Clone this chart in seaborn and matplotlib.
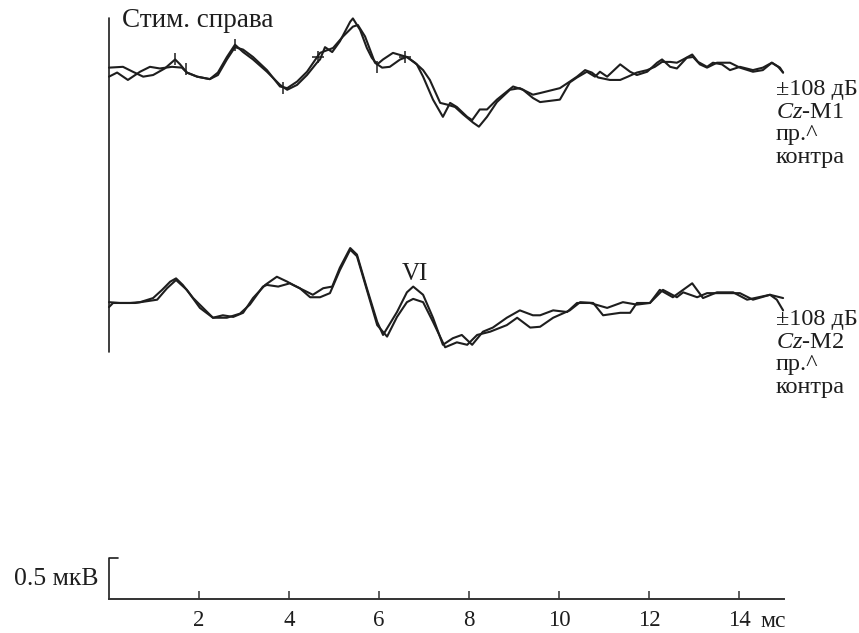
import numpy as np
import pandas as pd
import matplotlib
matplotlib.use("Agg")
import matplotlib.pyplot as plt
import seaborn as sns

# --- data: time (ms) and amplitude (uV) ---
# upper pair, Cz-M1
u1_t = [0.0, 0.31, 0.53, 0.76, 0.98, 1.24, 1.47, 1.58, 1.73, 1.96, 2.24, 2.42, 2.62, 2.8, 2.98,
        3.2, 3.51, 3.8, 3.96, 4.18, 4.4, 4.62, 4.69, 4.8, 4.96, 5.13, 5.36, 5.42, 5.58, 5.73,
        5.84, 5.96, 6.09, 6.31, 6.62, 6.84, 6.98, 7.2, 7.42, 7.58, 7.73, 7.96, 8.07, 8.24, 8.4,
        8.62, 8.98, 9.2, 9.42, 9.58, 10.02, 10.24, 10.4, 10.62, 10.8, 10.91, 11.07, 11.36, 11.58,
        11.73, 11.96, 12.18, 12.29, 12.47, 12.62, 12.84, 12.98, 13.13, 13.29, 13.51, 13.8, 14.02,
        14.31, 14.53, 14.73, 14.87, 14.98]
u1_a = [0.05, 0.06, 0.0, -0.06, -0.04, 0.04, 0.15, 0.09, -0.01, -0.06, -0.09, -0.01, 0.18, 0.33, 0.24,
        0.15, 0.0, -0.16, -0.22, -0.16, -0.04, 0.11, 0.15, 0.30, 0.24, 0.37, 0.61, 0.65, 0.51, 0.29,
        0.17, 0.09, 0.15, 0.23, 0.18, 0.09, -0.06, -0.34, -0.55, -0.38, -0.43, -0.55, -0.59, -0.46, -0.46,
        -0.34, -0.18, -0.22, -0.32, -0.37, -0.34, -0.13, -0.07, 0.0, -0.06, 0.0, -0.06, 0.09, 0.0,
        -0.04, 0.0, 0.11, 0.15, 0.06, 0.04, 0.17, 0.18, 0.09, 0.05, 0.11, 0.11, 0.05,
        0.0, 0.02, 0.11, 0.06, -0.01]

u2_t = [0.0, 0.18, 0.42, 0.69, 0.91, 1.13, 1.4, 1.62, 1.73, 1.96, 2.24, 2.42, 2.62, 2.8, 2.98,
        3.2, 3.51, 3.8, 3.96, 4.18, 4.4, 4.69, 4.98, 5.2, 5.42, 5.53, 5.69, 5.91, 6.07, 6.24,
        6.47, 6.62, 6.8, 6.98, 7.13, 7.36, 7.51, 7.69, 7.87, 8.09, 8.22, 8.4, 8.62, 8.91, 9.13,
        9.42, 9.58, 10.02, 10.24, 10.4, 10.58, 10.73, 10.87, 11.13, 11.36, 11.53, 11.73, 11.96,
        12.13, 12.29, 12.47, 12.62, 12.76, 12.96, 13.09, 13.29, 13.42, 13.62, 13.8, 14.02, 14.31,
        14.53, 14.73, 14.91, 14.98]
u2_a = [-0.06, -0.01, -0.1, 0.0, 0.06, 0.04, 0.06, 0.05, -0.01, -0.06, -0.09, -0.04, 0.15, 0.30, 0.27,
        0.18, 0.02, -0.18, -0.2, -0.12, 0.0, 0.23, 0.29, 0.43, 0.55, 0.57, 0.43, 0.11, 0.05, 0.06,
        0.15, 0.18, 0.11, 0.02, -0.1, -0.38, -0.4, -0.43, -0.52, -0.62, -0.67, -0.55, -0.37, -0.22, -0.2,
        -0.28, -0.26, -0.2, -0.12, -0.06, 0.02, -0.01, -0.07, -0.1, -0.1, -0.06, -0.01, 0.02,
        0.06, 0.12, 0.12, 0.11, 0.15, 0.21, 0.12, 0.06, 0.11, 0.09, 0.02, 0.06, 0.02,
        0.05, 0.11, 0.05, -0.01]

# lower pair, Cz-M2
l1_t = [0.0, 0.24, 0.47, 0.69, 0.98, 1.18, 1.36, 1.49, 1.64, 1.87, 2.09, 2.31, 2.53, 2.76, 2.98,
        3.2, 3.47, 3.73, 3.96, 4.09, 4.31, 4.53, 4.76, 4.96, 5.13, 5.36, 5.51, 5.73, 5.96, 6.09,
        6.4, 6.62, 6.76, 6.98, 7.2, 7.42, 7.64, 7.84, 8.07, 8.31, 8.53, 8.84, 9.13, 9.42, 9.58,
        9.87, 10.18, 10.4, 10.69, 11.07, 11.42, 11.73, 12.02, 12.24, 12.53, 12.96, 13.2, 13.51,
        13.87, 14.18, 14.69, 14.98]
l1_a = [0.01, 0.0, 0.0, 0.01, 0.06, 0.16, 0.26, 0.30, 0.22, 0.06, -0.06, -0.18, -0.15, -0.17, -0.12,
        0.06, 0.22, 0.32, 0.26, 0.22, 0.16, 0.1, 0.18, 0.2, 0.43, 0.67, 0.59, 0.18, -0.23, -0.39,
        -0.11, 0.13, 0.2, 0.1, -0.18, -0.51, -0.43, -0.39, -0.51, -0.35, -0.3, -0.18, -0.09, -0.15, -0.15,
        -0.09, -0.11, 0.0, 0.0, -0.06, 0.01, -0.02, 0.0, 0.16, 0.07, 0.24, 0.06, 0.13,
        0.13, 0.04, 0.1, 0.06]

l2_t = [0.0, 0.09, 0.58, 1.07, 1.29, 1.49, 1.73, 2.02, 2.31, 2.62, 2.91, 3.13, 3.42, 3.51, 3.76,
        4.02, 4.24, 4.47, 4.69, 4.91, 5.13, 5.36, 5.51, 5.73, 5.96, 6.18, 6.4, 6.62, 6.76, 6.98,
        7.2, 7.47, 7.73, 7.96, 8.18, 8.47, 8.84, 9.07, 9.36, 9.58, 9.87, 10.24, 10.47, 10.76,
        10.98, 11.36, 11.58, 11.73, 12.02, 12.31, 12.62, 12.76, 13.07, 13.29, 13.73, 14.02,
        14.31, 14.69, 14.84, 14.98]
l2_a = [-0.05, 0.0, 0.0, 0.04, 0.18, 0.28, 0.16, -0.06, -0.18, -0.18, -0.13, -0.02, 0.2, 0.22, 0.2,
        0.24, 0.18, 0.07, 0.07, 0.12, 0.4, 0.65, 0.57, 0.16, -0.27, -0.41, -0.17, 0.01, 0.05, 0.01,
        -0.23, -0.54, -0.48, -0.51, -0.39, -0.35, -0.27, -0.18, -0.3, -0.29, -0.18, -0.09, 0.01, 0.0,
        -0.15, -0.12, -0.12, 0.0, 0.0, 0.16, 0.07, 0.13, 0.07, 0.12, 0.12, 0.12,
        0.04, 0.1, 0.04, -0.09]

# small peak marks on the upper trace
mark_t = [1.47, 1.71, 2.8, 3.87, 5.96]
mark_a = [0.15, 0.03, 0.33, -0.2, 0.06]
plus_t = [4.64, 6.58]
plus_a = [0.18, 0.18]

upper_off = 6.43
lower_off = 3.61

rows = []
for name, t, a, off in [("u1", u1_t, u1_a, upper_off), ("u2", u2_t, u2_a, upper_off),
                        ("l1", l1_t, l1_a, lower_off), ("l2", l2_t, l2_a, lower_off)]:
    for ti, ai in zip(t, a):
        rows.append({"trace": name, "t": ti, "y": ai + off})
df = pd.DataFrame(rows)

sns.set_theme(style="white")
plt.rcParams['font.family'] = ['Liberation Serif', 'DejaVu Serif']
plt.rcParams['mathtext.fontset'] = 'custom'
plt.rcParams['mathtext.rm'] = 'Liberation Serif'
plt.rcParams['mathtext.it'] = 'Liberation Serif:italic'

W, H = 859, 633
fig = plt.figure(figsize=(W / 100, H / 100), dpi=100)
ax = fig.add_axes([0, 0, 1, 1])
ax.set_xlim(-109 / 45, (W - 109) / 45)
ax.set_ylim(-(H - 599) / 82, 599 / 82)

ink = "#1e1e1e"
sns.lineplot(data=df, x="t", y="y", units="trace", estimator=None, sort=False,
             color=ink, lw=1.5, ax=ax, legend=False)
for ln in ax.lines:
    ln.set_solid_joinstyle("round")

ax.plot(mark_t, np.array(mark_a) + upper_off, ls="none", marker="|", ms=8, mew=1.1, color=ink)
ax.plot(plus_t, np.array(plus_a) + upper_off, ls="none", marker="+", ms=8, mew=1.1, color=ink)

# left vertical line and amplitude scale bar
ax.plot([0, 0], [(599 - 352) / 82, (599 - 18) / 82], color=ink, lw=1.2)
ax.plot([0.2, 0, 0], [0.5, 0.5, 0], color=ink, lw=1.2)

for s in ["left", "right", "top"]:
    ax.spines[s].set_visible(False)
ax.spines["bottom"].set_position(("data", 0))
ax.spines["bottom"].set_bounds(0, 15)
ax.spines["bottom"].set_color("#333333")
ax.spines["bottom"].set_linewidth(1.4)
ax.set_xticks([2, 4, 6, 8, 10, 12, 14])
ax.set_xticklabels(["2", "4", "6", "8", "10", "12", "14"])
ax.tick_params(axis="x", direction="in", length=6, width=1.1, color="#333333",
               pad=8, labelsize=16.5, labelcolor=ink, bottom=True)
ax.set_yticks([])
ax.set_xlabel("")
ax.set_ylabel("")
ax.patch.set_alpha(0)


def txt(x, y, s, size=18, **kw):
    fig.text(x / W, 1 - y / H, s, fontsize=size, color=ink, va="baseline", **kw)


txt(122, 27, "Стим. справа", size=19.5)
txt(415, 280, "VI", ha="center")
txt(98, 585, "0.5 мкВ", size=18.5, ha="right")
txt(760, 627, "мс", size=17)

for base, lead in [(95, "M1"), (325, "M2")]:
    txt(776, base, "±108 дБ", size=17.5)
    txt(776, base + 23, r"$\mathit{Cz}$-" + lead, size=17.5)
    txt(776, base + 45, "пр.^", size=17.5)
    txt(776, base + 68, "контра", size=17.5)

fig.savefig("out.png", dpi=100)
